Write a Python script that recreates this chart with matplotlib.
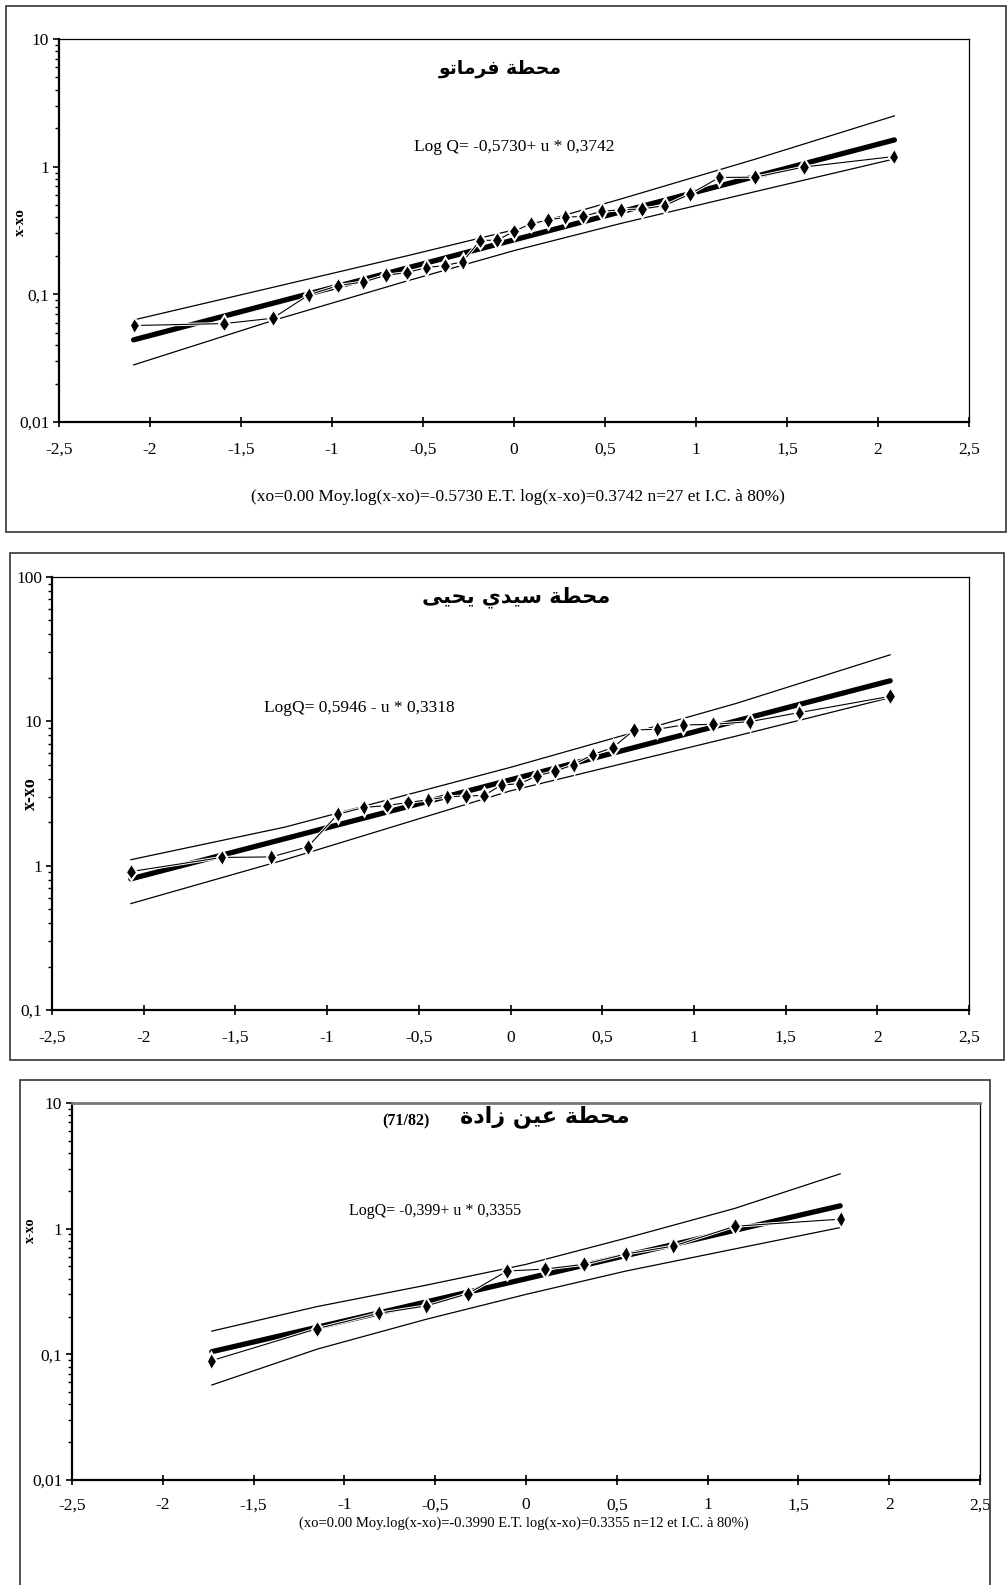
import numpy as np
import matplotlib.pyplot as plt
import matplotlib.patheffects as pe
from matplotlib.patches import Rectangle
from matplotlib.ticker import FuncFormatter, LogLocator, MultipleLocator, NullFormatter

# ---------------- data ----------------
# panel 1 : محطة فرماتو (n=27)
u1 = [-2.086, -1.593, -1.325, -1.128, -0.967, -0.828, -0.704, -0.589, -0.482,
      -0.380, -0.282, -0.187, -0.093, 0.0, 0.093, 0.187, 0.282, 0.380, 0.482,
      0.589, 0.704, 0.828, 0.967, 1.128, 1.325, 1.593, 2.086]
q1 = [0.057, 0.059, 0.065, 0.099, 0.117, 0.125, 0.141, 0.148, 0.162, 0.168,
      0.180, 0.264, 0.266, 0.311, 0.358, 0.381, 0.402, 0.408, 0.447, 0.460,
      0.466, 0.496, 0.610, 0.823, 0.827, 0.994, 1.20]
fit1_u = [-2.09, 2.09]
fit1_q = [0.044, 1.62]
band1_u = [-2.09, -1.33, -0.59, 0.0, 0.59, 1.33, 2.09]
band1_hi = [0.063, 0.113, 0.20, 0.32, 0.56, 1.15, 2.5]
band1_lo = [0.028, 0.062, 0.127, 0.22, 0.36, 0.64, 1.15]

# panel 2 : محطة سيدي يحيى (n=26)
u2 = [-2.07, -1.575, -1.304, -1.105, -0.942, -0.801, -0.674, -0.558, -0.448,
      -0.344, -0.243, -0.145, -0.048, 0.048, 0.145, 0.243, 0.344, 0.448,
      0.558, 0.674, 0.801, 0.942, 1.105, 1.304, 1.575, 2.07]
q2 = [0.91, 1.14, 1.15, 1.35, 2.27, 2.53, 2.61, 2.74, 2.86, 3.0, 3.04, 3.06,
      3.63, 3.69, 4.19, 4.51, 5.01, 5.88, 6.58, 8.71, 8.81, 9.44, 9.53, 9.95,
      11.5, 14.9]
fit2_u = [-2.07, 2.07]
fit2_q = [0.81, 19.1]
band2_u = [-2.07, -1.23, 0.0, 1.23, 2.07]
band2_hi = [1.10, 1.85, 4.8, 13.3, 28.9]
band2_lo = [0.546, 1.1, 3.3, 7.9, 14.6]

# panel 3 : محطة عين زادة (n=12)
u3 = [-1.732, -1.150, -0.812, -0.549, -0.319, -0.105, 0.105, 0.319, 0.549,
      0.812, 1.150, 1.732]
q3 = [0.089, 0.160, 0.212, 0.243, 0.304, 0.460, 0.477, 0.520, 0.628, 0.727,
      1.045, 1.19]
fit3_u = [-1.73, 1.73]
fit3_q = [0.105, 1.52]
band3_u = [-1.73, -1.15, -0.55, 0.0, 0.55, 1.15, 1.73]
band3_hi = [0.153, 0.24, 0.355, 0.52, 0.84, 1.45, 2.73]
band3_lo = [0.057, 0.11, 0.19, 0.30, 0.46, 0.69, 1.02]

# ---------------- arabic shaping (matplotlib has none) ----------------
FORMS = {  # isolated, final, initial, medial
    'ا': ('\uFE8D', '\uFE8E', None, None),
    'ة': ('\uFE93', '\uFE94', None, None),
    'ت': ('\uFE95', '\uFE96', '\uFE97', '\uFE98'),
    'ح': ('\uFEA1', '\uFEA2', '\uFEA3', '\uFEA4'),
    'د': ('\uFEA9', '\uFEAA', None, None),
    'ر': ('\uFEAD', '\uFEAE', None, None),
    'ز': ('\uFEAF', '\uFEB0', None, None),
    'س': ('\uFEB1', '\uFEB2', '\uFEB3', '\uFEB4'),
    'ط': ('\uFEC1', '\uFEC2', '\uFEC3', '\uFEC4'),
    'ع': ('\uFEC9', '\uFECA', '\uFECB', '\uFECC'),
    'ف': ('\uFED1', '\uFED2', '\uFED3', '\uFED4'),
    'م': ('\uFEE1', '\uFEE2', '\uFEE3', '\uFEE4'),
    'ن': ('\uFEE5', '\uFEE6', '\uFEE7', '\uFEE8'),
    'و': ('\uFEED', '\uFEEE', None, None),
    'ى': ('\uFEEF', '\uFEF0', None, None),
    'ي': ('\uFEF1', '\uFEF2', '\uFEF3', '\uFEF4'),
}


def shape_ar(s):
    out = []
    for i, c in enumerate(s):
        if c not in FORMS:
            out.append(c)
            continue
        prev = s[i - 1] if i > 0 else ''
        nxt = s[i + 1] if i + 1 < len(s) else ''
        join_prev = prev in FORMS and FORMS[prev][2] is not None
        join_next = FORMS[c][2] is not None and nxt in FORMS
        iso, fin, ini, med = FORMS[c]
        if join_prev and join_next:
            out.append(med)
        elif join_prev:
            out.append(fin)
        elif join_next:
            out.append(ini)
        else:
            out.append(iso)
    return ''.join(reversed(out))


# ---------------- figure ----------------
W, H = 1008, 1585
plt.rcParams['font.family'] = ['Liberation Serif', 'DejaVu Serif']
fig = plt.figure(figsize=(W / 100, H / 100), dpi=100)


def fx(x):
    return x / W


def fy(y):
    return 1 - y / H


def add_frame(x0, y0, x1, y1):
    fig.patches.append(Rectangle((fx(x0), fy(y1)), fx(x1) - fx(x0), fy(y0) - fy(y1),
                                 transform=fig.transFigure, fill=False,
                                 edgecolor='#333333', linewidth=1.2))


def comma(v, pos):
    s = f'{v:g}'
    return s.replace('.', ',')


def make_axes(box, ylim):
    x0, y0, x1, y1 = box
    ax = fig.add_axes([fx(x0), fy(y1), fx(x1) - fx(x0), fy(y0) - fy(y1)])
    ax.set_yscale('log')
    ax.set_xlim(-2.5, 2.5)
    ax.set_ylim(*ylim)
    ax.xaxis.set_major_locator(MultipleLocator(0.5))
    ax.xaxis.set_major_formatter(FuncFormatter(comma))
    ax.yaxis.set_major_locator(LogLocator(base=10))
    ax.yaxis.set_minor_locator(LogLocator(base=10, subs=np.arange(2, 10)))
    ax.yaxis.set_major_formatter(FuncFormatter(comma))
    ax.yaxis.set_minor_formatter(NullFormatter())
    ax.tick_params(axis='x', direction='inout', length=7, width=1.2,
                   labelsize=12.5, pad=11)
    ax.tick_params(axis='y', which='major', direction='out', length=4,
                   width=1.2, labelsize=12.5, pad=3)
    ax.tick_params(axis='y', which='minor', direction='out', length=3, width=1)
    for side in ['top', 'right']:
        ax.spines[side].set_linewidth(0.9)
    for side in ['bottom', 'left']:
        ax.spines[side].set_linewidth(1.6)
    return ax


def draw_series(ax, u, q, fu, fq, bu, bhi, blo):
    ax.plot(bu, bhi, color='black', lw=0.9, zorder=2)
    ax.plot(bu, blo, color='black', lw=0.9, zorder=2)
    ax.plot(fu, fq, color='black', lw=3.8, solid_capstyle='round', zorder=3)
    ax.plot(u, q, color='black', lw=0.8, marker='d', markersize=8,
            markerfacecolor='black', markeredgecolor='white', markeredgewidth=0.7,
            path_effects=[pe.Stroke(linewidth=2.2, foreground='white'), pe.Normal()],
            zorder=4)


ar_font = dict(family=['DejaVu Sans'], fontweight='bold')

# ---- panel 1 ----
add_frame(6, 6, 1006, 532)
ax1 = make_axes((59, 39, 969, 422), (0.01, 10))
draw_series(ax1, u1, q1, fit1_u, fit1_q, band1_u, band1_hi, band1_lo)
fig.text(fx(500), fy(68), shape_ar('محطة فرماتو'), ha='center', va='center',
         fontsize=13.5, **ar_font)
fig.text(fx(514), fy(147), 'Log Q= -0,5730+ u * 0,3742', ha='center',
         va='center', fontsize=12.5)
fig.text(fx(518), fy(497),
         '(xo=0.00 Moy.log(x-xo)=-0.5730 E.T. log(x-xo)=0.3742 n=27 et I.C. à 80%)',
         ha='center', va='center', fontsize=12.5)
fig.text(fx(20), fy(222), 'x-xo', rotation=90, ha='center', va='center',
         fontsize=11, fontweight='bold')

# ---- panel 2 ----
add_frame(10, 553, 1004, 1060)
ax2 = make_axes((52, 577, 969, 1010), (0.1, 100))
draw_series(ax2, u2, q2, fit2_u, fit2_q, band2_u, band2_hi, band2_lo)
fig.text(fx(516), fy(597), shape_ar('محطة سيدي يحيى'), ha='center',
         va='center', fontsize=15, **ar_font)
fig.text(fx(359), fy(708), 'LogQ= 0,5946 - u * 0,3318', ha='center',
         va='center', fontsize=12.5)
fig.text(fx(30), fy(794), 'x-xo', rotation=90, ha='center', va='center',
         fontsize=13, fontweight='bold')

# ---- panel 3 ----
add_frame(20, 1080, 990, 1600)
ax3 = make_axes((72, 1103, 980, 1480), (0.01, 10))
ax3.spines['top'].set_color('#777777')
ax3.spines['top'].set_linewidth(2)
ax3.tick_params(axis='x', pad=9)
draw_series(ax3, u3, q3, fit3_u, fit3_q, band3_u, band3_hi, band3_lo)
fig.text(fx(630), fy(1117), shape_ar('محطة عين زادة'), ha='right',
         va='center', fontsize=16, **ar_font)
fig.text(fx(430), fy(1121), '(71/82)', ha='right', va='center', fontsize=11.5,
         fontweight='bold')
fig.text(fx(435), fy(1211), 'LogQ= -0,399+ u * 0,3355', ha='center',
         va='center', fontsize=11.5)
fig.text(fx(524), fy(1523),
         '(xo=0.00 Moy.log(x-xo)=-0.3990 E.T. log(x-xo)=0.3355 n=12 et I.C. à 80%)',
         ha='center', va='center', fontsize=10.5)
fig.text(fx(30), fy(1230), 'x-xo', rotation=90, ha='center', va='center',
         fontsize=10, fontweight='bold')

fig.savefig('out.png', dpi=100)
